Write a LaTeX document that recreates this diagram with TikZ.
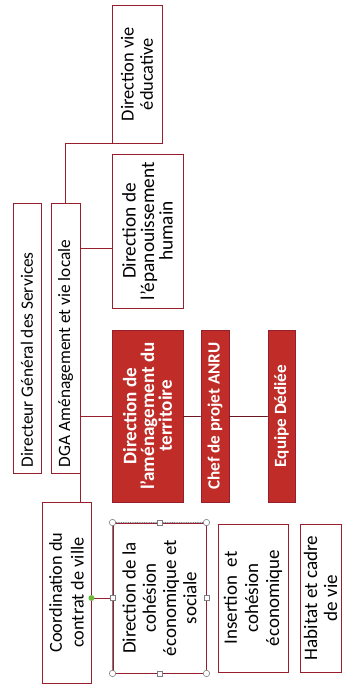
\documentclass[tikz,border=0pt]{standalone}
\usepackage{fontspec}
\setmainfont{Carlito}
\definecolor{linered}{RGB}{150,30,45}
\definecolor{fillred}{RGB}{192,44,40}
\definecolor{selgray}{RGB}{125,125,130}
\definecolor{handgreen}{RGB}{110,185,60}
\tikzset{
  orgbox/.style={draw=linered, line width=0.8pt, fill=white, rotate=90,
    align=center, inner sep=1pt},
  redbox/.style={orgbox, fill=fillred, text=white},
  fsz/.style 2 args={font=\fontsize{#1}{#2}\selectfont},
  bfsz/.style 2 args={font=\fontsize{#1}{#2}\selectfont\bfseries},
  headbox/.style={orgbox, fsz={14.8}{16}, inner xsep=1.8mm, text width=77.4mm, align=flush left},
  link/.style={draw=linered, line width=0.8pt},
  thinlink/.style={draw=linered!70!black, line width=0.5pt},
  handle/.style={draw=selgray, fill=white, line width=0.5pt},
}
\begin{document}
\begin{tikzpicture}[x=0.3mm, y=-0.3mm, line cap=round]
\useasboundingbox (0,0) rectangle (342,691);

% --- direction generale ---
\node[headbox, minimum width=81mm, minimum height=8.4mm] (dgs) at (27,338) {Directeur Général des Services};
\node[headbox, minimum width=81mm, minimum height=8.7mm] (dga) at (65.5,338) {DGA Aménagement et vie locale};

% --- directions ---
\node[orgbox, fsz={15.7}{16.5}, minimum width=41.4mm, minimum height=15mm] (vieedu) at (137,74) {Direction vie\\éducative};
\node[orgbox, fsz={16.5}{15.8}, minimum width=46.2mm, minimum height=21.3mm] (epan) at (147.5,231) {Direction de\\l'épanouissement\\humain};
\node[redbox, bfsz={16.3}{15.2}, minimum width=51.6mm, minimum height=21.3mm] (amen) at (147.5,416) {Direction de\\l'aménagement du\\territoire};
\node[redbox, bfsz={14.6}{15}, minimum width=51.6mm, minimum height=8.4mm] (anru) at (215,416) {Chef de projet ANRU};
\node[redbox, bfsz={14.6}{15}, minimum width=51.6mm, minimum height=8.1mm] (equipe) at (281.5,416) {Equipe Dédiée};

% --- contrat de ville ---
\node[orgbox, fsz={15.6}{18.5}, minimum width=54.3mm, minimum height=14.7mm] (coord) at (66.5,592.5) {Coordination du\\contrat de ville};
\node[orgbox, fsz={16.2}{17.3}, minimum width=45mm, minimum height=27.9mm] (dces) at (159.5,598) {Direction de la\\cohésion\\économique et\\sociale};
\node[orgbox, fsz={16.2}{18}, minimum width=44.4mm, minimum height=21mm] (insert) at (253,598) {Insertion\ \ et\\cohésion\\économique};
\node[orgbox, fsz={16.3}{17}, minimum width=44.4mm, minimum height=12.3mm] (habitat) at (320.5,598) {Habitat et cadre\\de vie};

% --- liens ---
\draw[link] (dga.east) |- (vieedu.north west);
\draw[link] (dga.south |- 0,248) -- (epan.north |- 0,248);
\draw[link] (dga.south |- amen.north) -- (amen.north);
\draw[thinlink] (amen.south) -- (anru.north);
\draw[thinlink] (anru.south) -- (equipe.north);
\draw[link] (dga.south west) -- (coord.east -| dga.south west);
\draw[link] (coord.south |- dces.north) -- (dces.north);

% --- cadre de selection ---
\draw[selgray, line width=0.5pt] (dces.north west) -- (dces.north east);
\draw[selgray, line width=0.5pt, densely dotted] (dces.north east) -- (dces.south east);
\foreach \a in {north west, north east, south east, south west}
  \draw[handle] (dces.\a) circle (3.2);
\foreach \a in {north, east, south, west}
  \draw[handle] (dces.\a) ++(-2.6,-2.6) rectangle ++(5.2,5.2);
\fill[handgreen] (coord.south |- dces.north) circle (3);

\end{tikzpicture}
\end{document}
